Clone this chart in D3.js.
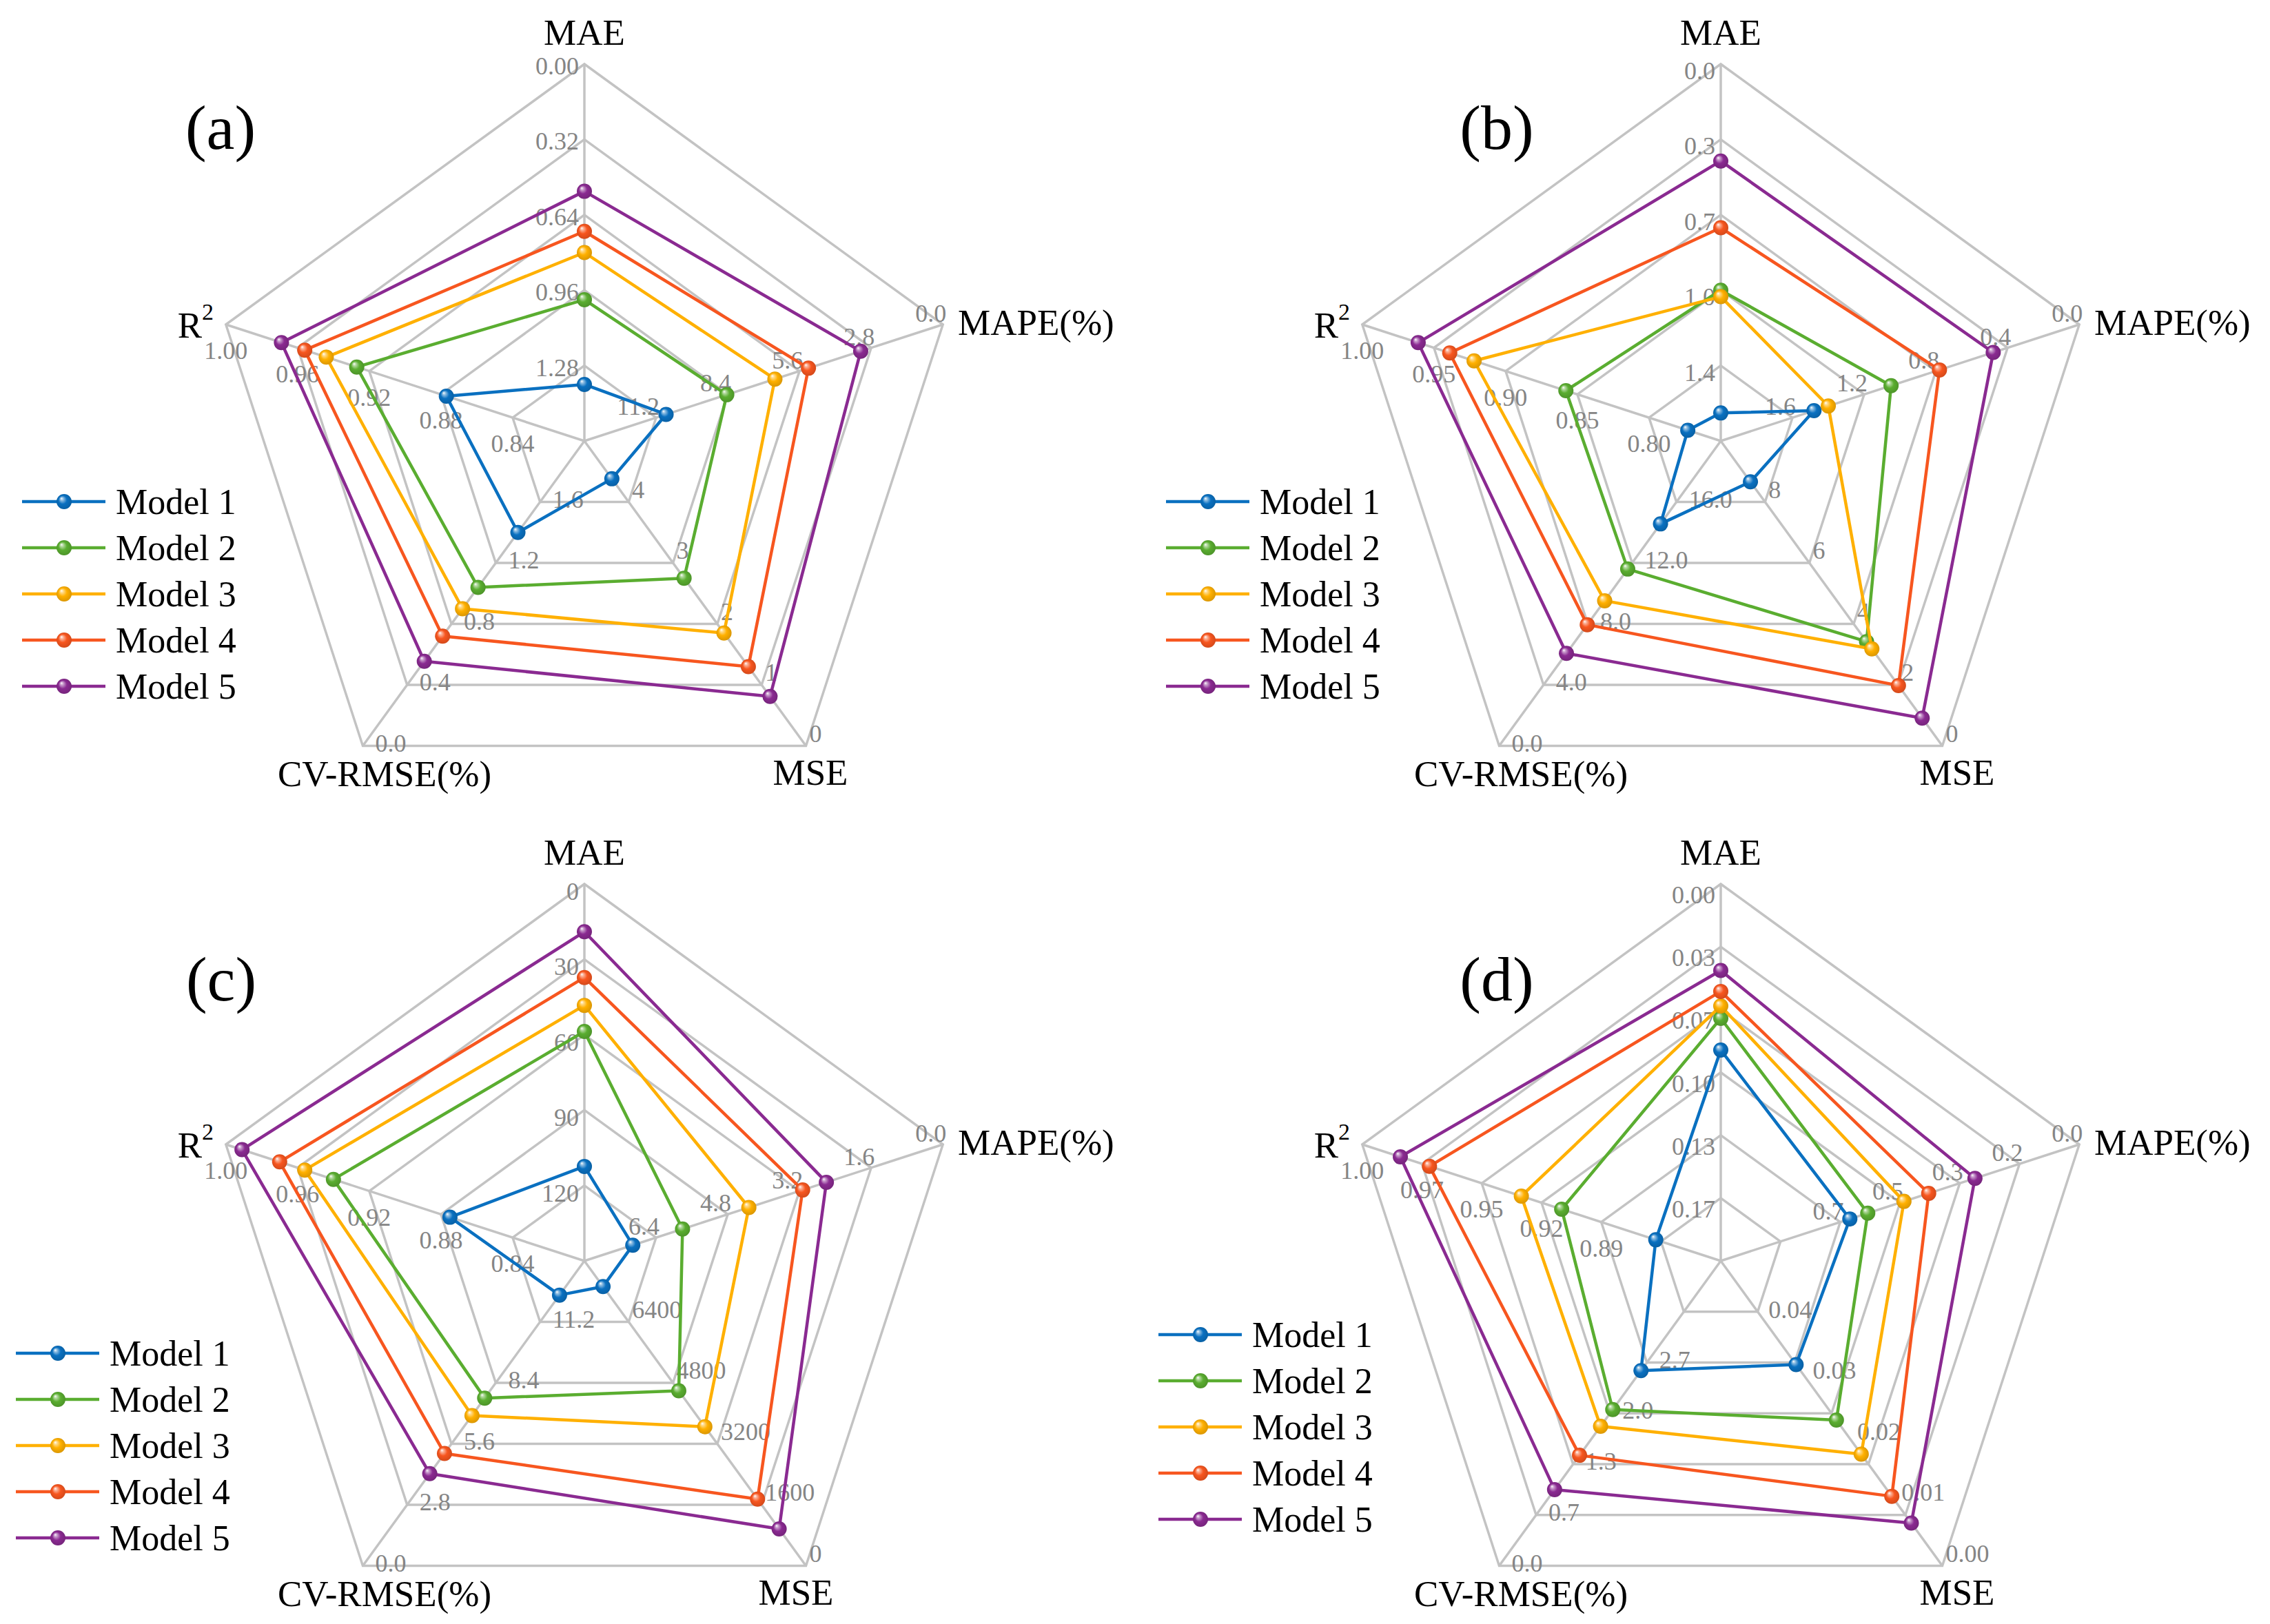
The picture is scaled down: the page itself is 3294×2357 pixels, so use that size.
<!DOCTYPE html>
<html><head><meta charset="utf-8">
<script src="https://cdn.jsdelivr.net/npm/d3@7"></script>
<style>html,body{margin:0;padding:0;background:#fff;} svg{display:block;}</style>
</head><body>
<svg id="chart" width="3294" height="2357"></svg>
<script>
// ---------- shared ----------
const models = ["Model 1", "Model 2", "Model 3", "Model 4", "Model 5"];
const axisNames = ["MAE", "MAPE(%)", "MSE", "CV-RMSE(%)", "R2"];
const seriesColors = ["#0a70c0", "#5aad30", "#ffb000", "#f7561f", "#8a2a91"];

// ---------- panel (a) ----------  values per model: [MAE, MAPE, MSE, CV-RMSE, R2]
const a_model1 = [1.36, 10.81, 4.38, 1.40, 0.877];
const a_model2 = [1.00, 8.44, 2.75, 1.04, 0.927];
const a_model3 = [0.80, 6.56, 1.85, 0.90, 0.944];
const a_model4 = [0.71, 5.25, 1.30, 0.72, 0.956];
const a_model5 = [0.54, 3.21, 0.81, 0.555, 0.969];
const a_axisCenter = [1.60, 14.0, 5, 2.0, 0.80];
const a_axisOuter  = [0.00, 0.0, 0, 0.0, 1.00];
const a_tickValues = [[1.28, 0.96, 0.64, 0.32, 0], [11.2, 8.4, 5.6, 2.8, 0], [4, 3, 2, 1, 0], [1.6, 1.2, 0.8, 0.4, 0], [0.84, 0.88, 0.92, 0.96, 1.00]];
const a_tickLabels = [["1.28", "0.96", "0.64", "0.32", "0.00"], ["11.2", "8.4", "5.6", "2.8", "0.0"], ["4", "3", "2", "1", "0"], ["1.6", "1.2", "0.8", "0.4", "0.0"], ["0.84", "0.88", "0.92", "0.96", "1.00"]];

// ---------- panel (b) ----------
const b_model1 = [1.62, 1.48, 8.66, 14.56, 0.773];
const b_model2 = [1.05, 1.05, 3.42, 11.6, 0.858];
const b_model3 = [1.08, 1.40, 3.18, 9.52, 0.922];
const b_model4 = [0.76, 0.78, 1.98, 7.95, 0.939];
const b_model5 = [0.45, 0.48, 0.91, 6.07, 0.961];
const b_axisCenter = [1.75, 2.0, 10, 20.0, 0.75];
const b_axisOuter  = [0.0, 0.0, 0, 0.0, 1.00];
const b_tickValues = [[1.4, 1.05, 0.7, 0.35, 0], [1.6, 1.2, 0.8, 0.4, 0], [8, 6, 4, 2, 0], [16, 12, 8, 4, 0], [0.80, 0.85, 0.90, 0.95, 1.00]];
const b_tickLabels = [["1.4", "1.0", "0.7", "0.3", "0.0"], ["1.6", "1.2", "0.8", "0.4", "0.0"], ["8", "6", "4", "2", "0"], ["16.0", "12.0", "8.0", "4.0", "0.0"], ["0.80", "0.85", "0.90", "0.95", "1.00"]];

// ---------- panel (c) ----------
const c_model1 = [112.4, 6.92, 7326, 12.43, 0.875];
const c_model2 = [58.7, 5.81, 4592, 7.70, 0.940];
const c_model3 = [48.3, 4.33, 3650, 6.90, 0.956];
const c_model4 = [37.2, 3.13, 1748, 5.16, 0.970];
const c_model5 = [19.0, 2.60, 968, 4.23, 0.991];
const c_axisCenter = [150, 8.0, 8000, 14.0, 0.80];
const c_axisOuter  = [0, 0.0, 0, 0.0, 1.00];
const c_tickValues = [[120, 90, 60, 30, 0], [6.4, 4.8, 3.2, 1.6, 0], [6400, 4800, 3200, 1600, 0], [11.2, 8.4, 5.6, 2.8, 0], [0.84, 0.88, 0.92, 0.96, 1.00]];
const c_tickLabels = [["120", "90", "60", "30", "0"], ["6.4", "4.8", "3.2", "1.6", "0.0"], ["6400", "4800", "3200", "1600", "0"], ["11.2", "8.4", "5.6", "2.8", "0.0"], ["0.84", "0.88", "0.92", "0.96", "1.00"]];

// ---------- panel (d) ----------
const d_model1 = [0.0881, 0.640, 0.0330, 2.56, 0.869];
const d_model2 = [0.0713, 0.590, 0.0239, 2.05, 0.911];
const d_model3 = [0.0647, 0.489, 0.0183, 1.83, 0.929];
const d_model4 = [0.0570, 0.420, 0.0114, 1.45, 0.970];
const d_model5 = [0.0459, 0.291, 0.0070, 1.00, 0.983];
const d_axisCenter = [0.20, 1.0, 0.05, 4.0, 0.84];
const d_axisOuter  = [0.00, 0.0, 0.00, 0.0, 1.00];
const d_tickValues = [[0.1667, 0.1333, 0.1, 0.0667, 0.0333, 0], [0.6667, 0.5, 0.3333, 0.1667, 0], [0.04, 0.03, 0.02, 0.01, 0], [2.6667, 2.0, 1.3333, 0.6667, 0], [0.8933, 0.92, 0.9467, 0.9733, 1.00]];
const d_tickLabels = [["0.17", "0.13", "0.10", "0.07", "0.03", "0.00"], ["0.7", "0.5", "0.3", "0.2", "0.0"], ["0.04", "0.03", "0.02", "0.01", "0.00"], ["2.7", "2.0", "1.3", "0.7", "0.0"], ["0.89", "0.92", "0.95", "0.97", "1.00"]];

// ---------- layout ----------
const R = 547;
const panels = [
  {letter: "(a)", cx: 848,  cy: 640,  rings: 5, center: a_axisCenter, outer: a_axisOuter, tv: a_tickValues, tl: a_tickLabels,
   data: [a_model1, a_model2, a_model3, a_model4, a_model5], letterPos: [320, 185], legend: [32, 728], mseDx: 328, maeDy: 3},
  {letter: "(b)", cx: 2497, cy: 640,  rings: 5, center: b_axisCenter, outer: b_axisOuter, tv: b_tickValues, tl: b_tickLabels,
   data: [b_model1, b_model2, b_model3, b_model4, b_model5], letterPos: [2172, 185], legend: [1692, 728], mseDx: 343, maeDy: 10},
  {letter: "(c)", cx: 848,  cy: 1830, rings: 5, center: c_axisCenter, outer: c_axisOuter, tv: c_tickValues, tl: c_tickLabels,
   data: [c_model1, c_model2, c_model3, c_model4, c_model5], letterPos: [321, 1421], legend: [23, 1964], mseDx: 307, maeDy: 11},
  {letter: "(d)", cx: 2497, cy: 1830, rings: 6, center: d_axisCenter, outer: d_axisOuter, tv: d_tickValues, tl: d_tickLabels,
   data: [d_model1, d_model2, d_model3, d_model4, d_model5], letterPos: [2172, 1421], legend: [1681, 1937], mseDx: 343, maeDy: 16}
];

const FONT = "'Liberation Serif','Times New Roman',serif";
const svg = d3.select("#chart");
svg.append("rect").attr("width", 3294).attr("height", 2357).attr("fill", "#fff");

// marker gradients (glossy sphere)
const defs = svg.append("defs");
seriesColors.forEach((c, i) => {
  const g = defs.append("radialGradient").attr("id", "g" + i)
    .attr("cx", "50%").attr("cy", "50%").attr("r", "55%").attr("fx", "32%").attr("fy", "28%");
  g.append("stop").attr("offset", "0%").attr("stop-color", "#ffffff");
  g.append("stop").attr("offset", "18%").attr("stop-color", d3.interpolateRgb(c, "#ffffff")(0.55));
  g.append("stop").attr("offset", "50%").attr("stop-color", c);
  g.append("stop").attr("offset", "100%").attr("stop-color", d3.color(c).darker(0.5));
});

const angle = i => (-90 + 72 * i) * Math.PI / 180;
const pt = (p, i, r) => [p.cx + r * Math.cos(angle(i)), p.cy + r * Math.sin(angle(i))];

panels.forEach(p => {
  const g = svg.append("g");
  const scales = p.center.map((c, i) => d3.scaleLinear().domain([c, p.outer[i]]).range([0, R]));

  // grid rings
  const ringR = d3.range(1, p.rings + 1).map(k => R * k / p.rings);
  g.selectAll(".ring").data(ringR).enter().append("polygon")
    .attr("points", r => d3.range(5).map(i => pt(p, i, r).join(",")).join(" "))
    .attr("fill", "none").attr("stroke", "#c3c3c3").attr("stroke-width", 3.5).attr("stroke-linejoin", "miter");
  // spokes
  g.selectAll(".spoke").data(d3.range(5)).enter().append("line")
    .attr("x1", p.cx).attr("y1", p.cy)
    .attr("x2", i => pt(p, i, R)[0]).attr("y2", i => pt(p, i, R)[1])
    .attr("stroke", "#c3c3c3").attr("stroke-width", 3.5);

  // tick labels
  const tickOff = [
    {dx: -8, dy: p.maeDy, anchor: "end"},
    {dx: 5, dy: -16, anchor: "end"},
    {dx: 5, dy: -18, anchor: "start"},
    {dx: 18, dy: -4, anchor: "start"},
    {dx: 0, dy: 38, anchor: "middle"}
  ];
  p.tv.forEach((vals, i) => {
    vals.forEach((v, j) => {
      const [x, y] = pt(p, i, scales[i](v));
      g.append("text").attr("x", x + tickOff[i].dx).attr("y", y + tickOff[i].dy)
        .attr("text-anchor", tickOff[i].anchor).attr("dominant-baseline", "central")
        .attr("font-family", FONT).attr("font-size", 36).attr("fill", "#858585")
        .text(p.tl[i][j]);
    });
  });

  // axis titles
  const tfs = 53;
  const title = (x, y, anchor, txt) => g.append("text").attr("x", x).attr("y", y)
    .attr("text-anchor", anchor).attr("dominant-baseline", "central")
    .attr("font-family", FONT).attr("font-size", tfs).attr("fill", "#000").text(txt);
  title(p.cx, p.cy - 593, "middle", axisNames[0]);
  title(p.cx + 542, p.cy - 172, "start", axisNames[1]);
  title(p.cx + p.mseDx, p.cy + 481, "middle", axisNames[2]);
  title(p.cx - 290, p.cy + 483, "middle", axisNames[3]);
  const r2 = g.append("text").attr("x", p.cx - 538).attr("y", p.cy - 168)
    .attr("text-anchor", "end").attr("dominant-baseline", "central")
    .attr("font-family", FONT).attr("font-size", tfs).attr("fill", "#000");
  r2.append("tspan").text("R");
  r2.append("tspan").attr("font-size", 34).attr("dy", -20).text("2");

  // panel letter
  g.append("text").attr("x", p.letterPos[0]).attr("y", p.letterPos[1])
    .attr("text-anchor", "middle").attr("dominant-baseline", "central")
    .attr("font-family", FONT).attr("font-size", 92).attr("fill", "#000").text(p.letter);

  // series
  const line = d3.line().curve(d3.curveLinearClosed);
  p.data.forEach((vals, m) => {
    const pts = vals.map((v, i) => pt(p, i, scales[i](v)));
    g.append("path").attr("d", line(pts)).attr("fill", "none")
      .attr("stroke", seriesColors[m]).attr("stroke-width", 4.5).attr("stroke-linejoin", "round");
    g.selectAll(null).data(pts).enter().append("circle")
      .attr("cx", d => d[0]).attr("cy", d => d[1]).attr("r", 11)
      .attr("fill", "url(#g" + m + ")");
  });

  // legend
  const lg = g.append("g").attr("transform", `translate(${p.legend[0]},${p.legend[1]})`);
  models.forEach((name, m) => {
    const y = m * 67;
    lg.append("line").attr("x1", 0).attr("x2", 121).attr("y1", y).attr("y2", y)
      .attr("stroke", seriesColors[m]).attr("stroke-width", 4.5);
    lg.append("circle").attr("cx", 61).attr("cy", y).attr("r", 11).attr("fill", "url(#g" + m + ")");
    lg.append("text").attr("x", 136).attr("y", y).attr("dominant-baseline", "central")
      .attr("font-family", FONT).attr("font-size", 52).attr("fill", "#000").text(name);
  });
});
</script>
</body></html>
